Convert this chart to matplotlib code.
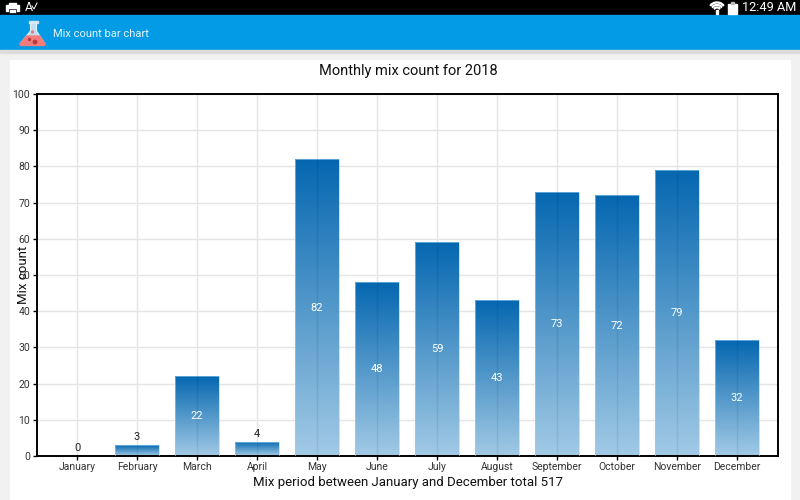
import numpy as np
import matplotlib
matplotlib.use('Agg')
import matplotlib.pyplot as plt
from matplotlib.patches import Rectangle, Polygon, Circle, Wedge
from matplotlib.colors import LinearSegmentedColormap

plt.rcParams['font.family'] = ['Roboto', 'DejaVu Sans']

months = ['January', 'February', 'March', 'April', 'May', 'June', 'July',
          'August', 'September', 'October', 'November', 'December']
counts = [0, 3, 22, 4, 82, 48, 59, 43, 73, 72, 79, 32]
yticks = list(range(0, 101, 10))

fig = plt.figure(figsize=(8, 5), dpi=100, facecolor='#f1f1f1')

# app screen around the chart, in pixels from the top left
bg = fig.add_axes([0, 0, 1, 1], zorder=0)
bg.set_xlim(0, 800)
bg.set_ylim(500, 0)
bg.axis('off')
bg.add_patch(Rectangle((0, 0), 800, 15, color='black'))
bg.add_patch(Rectangle((0, 15), 800, 35, color='#039be5'))
bg.add_patch(Rectangle((0, 50), 800, 3, color='#dcdcdc'))
bg.add_patch(Rectangle((10, 60), 780, 440, color='white'))
bg.text(53, 34, 'Mix count bar chart', color='#e3f4fd', fontsize=8, va='center')
bg.text(796, 7.5, '12:49 AM', color='white', fontsize=9.2, va='center', ha='right')
bg.text(408, 70.5, 'Monthly mix count for 2018', color='#111111', fontsize=10.5, va='center', ha='center')

# flask icon
bg.add_patch(Rectangle((29, 21), 9, 2, color='#cfe3ee'))
bg.add_patch(Polygon([(30.5, 23), (36.5, 23), (36.5, 31), (45, 44), (20, 44), (30.5, 31)],
                     closed=True, facecolor='#bfe0f2', edgecolor='#e8f3f8', lw=0.8))
bg.add_patch(Polygon([(26.5, 36), (39.5, 36), (45, 44), (44, 45.5), (21, 45.5), (20, 44)],
                     closed=True, color='#f27c7c'))
bg.add_patch(Circle((35, 42), 1.7, color='#b83a3a'))
bg.add_patch(Circle((29.5, 39.5), 1, color='#b83a3a'))
bg.add_patch(Circle((32.5, 32), 1, color='#ee7a8a'))

# status bar icons
bg.add_patch(Rectangle((6, 5), 13, 5.5, color='white'))
bg.add_patch(Rectangle((9, 2.5), 7, 2, color='white'))
bg.add_patch(Rectangle((9, 9), 7, 4, facecolor='white', edgecolor='black', lw=0.5))
bg.text(25, 7.5, 'A', color='white', fontsize=9, va='center', ha='left')
bg.plot([32, 34, 37], [6, 9, 3], color='white', lw=0.7)
for r in [9, 6.5, 4]:
    bg.add_patch(Wedge((717, 11), r, 220, 320, width=0.9, color='white'))
bg.add_patch(Rectangle((716, 10), 2, 4, color='white'))
bg.add_patch(Rectangle((728, 3.5), 8.5, 10, color='white'))
bg.add_patch(Rectangle((730.5, 2), 3.5, 2, color='#bbbbbb'))

ax = fig.add_axes([37 / 800, 1 - 456 / 500, 741 / 800, 362 / 500], zorder=1)
ax.patch.set_alpha(0)
x = np.arange(len(months))
width = 0.733

ax.set_xticks(x)
ax.set_xticklabels(months)
ax.set_yticks(yticks)
ax.grid(True, color='#e4e4e4', lw=1)
ax.set_axisbelow(True)

# each bar has its own top to bottom gradient
cmap = LinearSegmentedColormap.from_list('bar', ['#0567b0', '#a2cae5'])
grad = np.linspace(0, 1, 256).reshape(-1, 1)
bars = ax.bar(x, counts, width=width, color='none', edgecolor=(0.6, 0.82, 0.96, 0.6), lw=0.7, zorder=3)
for b, v in zip(bars, counts):
    if v == 0:
        continue
    im = ax.imshow(grad, cmap=cmap, aspect='auto', zorder=2.5, origin='upper',
                   extent=(b.get_x(), b.get_x() + b.get_width(), 0, v))
    im.set_clip_path(b)
ax.set_xlim(-0.667, 11.683)
ax.set_ylim(0, 100)

# vertical grid shows through the bars
ax.vlines(x, 0, counts, color=(0, 0, 0, 0.07), lw=1, zorder=3.5)

for i, v in zip(x, counts):
    if v < 10:
        ax.text(i, v + 0.8, str(v), ha='center', va='bottom', fontsize=8, color='#222222', zorder=4)
    else:
        ax.text(i, v / 2, str(v), ha='center', va='center', fontsize=8, color='white', zorder=4)

for s in ax.spines.values():
    s.set_linewidth(1.4)
    s.set_color('black')
ax.tick_params(axis='both', labelsize=7.5, length=3, width=1, color='black', labelcolor='#333333')
ax.tick_params(axis='x', pad=1.5)
ax.tick_params(axis='y', pad=2)

ax.set_xlabel('Mix period between January and December total 517', fontsize=9.5, color='#111111')
ax.xaxis.set_label_coords(371 / 741, -0.0555, transform=ax.transAxes)
ax.set_ylabel('Mix count', fontsize=9.5, color='#111111')
ax.yaxis.set_label_coords(-7 / 741, 0.5, transform=ax.transAxes)

fig.savefig('out.png', dpi=100, facecolor=fig.get_facecolor())
